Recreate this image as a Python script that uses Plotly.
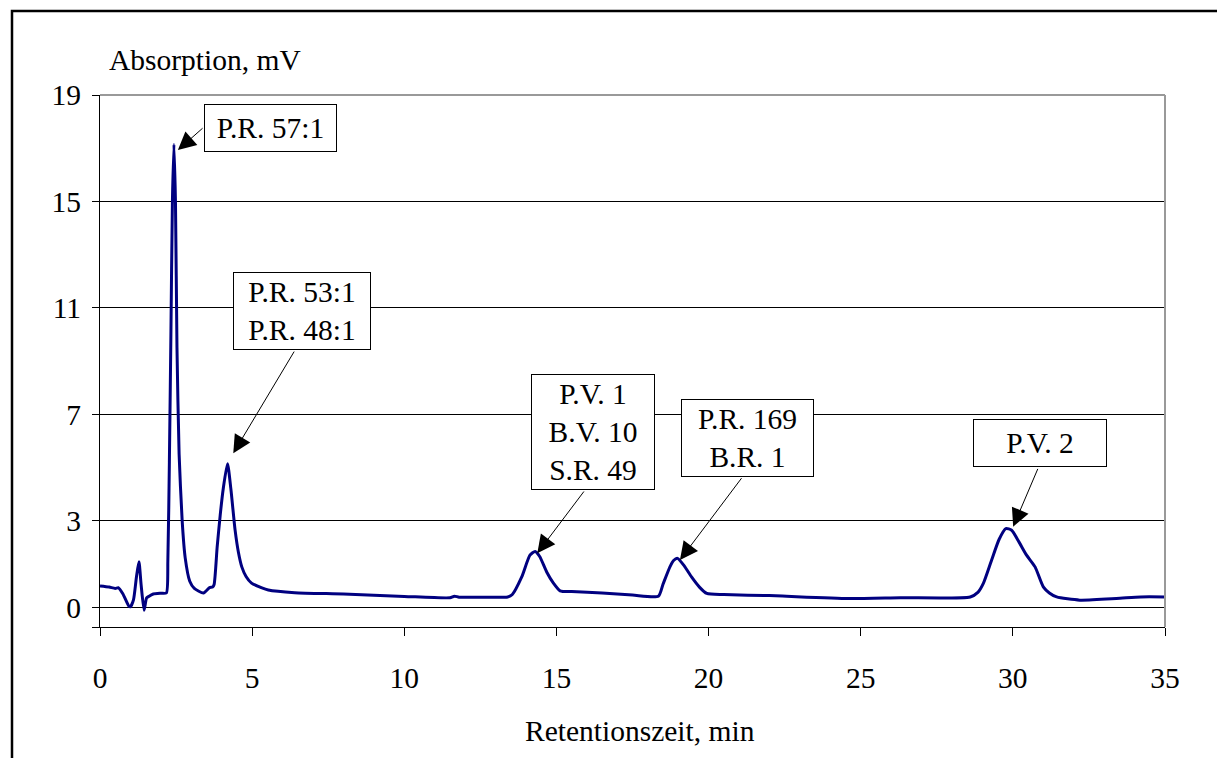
import plotly.graph_objects as go

# ---- data ----
time_min = [0.0, 0.3, 0.5, 0.6, 0.75, 0.95, 1.0, 1.1, 1.2, 1.28, 1.35, 1.45, 1.53, 1.6, 1.75,
            2.0, 2.18, 2.23, 2.28, 2.33, 2.38, 2.43, 2.48, 2.53, 2.6, 2.7, 2.8, 2.95, 3.1,
            3.4, 3.6, 3.7, 3.75, 3.85, 3.95, 4.05, 4.19, 4.3, 4.44, 4.55, 4.66, 4.8, 4.98,
            5.3, 5.53, 6.4, 8.0, 10.0, 11.5, 11.65, 11.8, 12.5, 13.4, 13.55, 13.86, 14.13,
            14.3, 14.45, 14.68, 14.9, 15.12, 15.5, 16.5, 17.5, 18.35, 18.5, 18.73, 18.85, 18.98,
            19.2, 19.44, 19.7, 19.94, 20.5, 22.0, 24.6, 26.3, 28.6, 28.85, 29.03, 29.3,
            29.55, 29.77, 29.96, 30.2, 30.45, 30.73, 31.0, 31.2, 31.44, 32.2, 33.4, 34.2, 35.0]
absorption_mv = [0.54, 0.50, 0.45, 0.48, 0.25, -0.22, -0.24, 0.02, 0.9, 1.45, 0.6, -0.37, 0.09, 0.15, 0.24,
                 0.27, 0.28, 1.5, 5.2, 10.0, 15.0, 17.15, 15.0, 9.5, 5.5, 3.0, 1.6, 0.72, 0.45,
                 0.28, 0.48, 0.5, 0.6, 2.0, 3.2, 4.2, 5.14, 4.2, 2.64, 1.8, 1.26, 0.9, 0.65,
                 0.48, 0.39, 0.29, 0.24, 0.15, 0.10, 0.16, 0.12, 0.12, 0.13, 0.22, 0.88, 1.7,
                 1.84, 1.65, 1.07, 0.65, 0.36, 0.33, 0.28, 0.2, 0.16, 0.6, 1.26, 1.5, 1.58,
                 1.3, 0.88, 0.5, 0.26, 0.22, 0.18, 0.07, 0.10, 0.13, 0.3, 0.64, 1.51,
                 2.3, 2.70, 2.64, 2.2, 1.7, 1.26, 0.51, 0.28, 0.13, 0.01, 0.07, 0.13, 0.13]

x_ticks = [0, 5, 10, 15, 20, 25, 30, 35]
y_tickvals = [-1, -0.27, 3, 7, 11, 15, 19]
y_ticktext = ["", "0", "3", "7", "11", "15", "19"]

peak_labels = ["P.R. 57:1", "P.R. 53:1<br>P.R. 48:1", "P.V. 1<br>B.V. 10<br>S.R. 49",
               "P.R. 169<br>B.R. 1", "P.V. 2"]
# arrow tips (data coords, at the peaks)
tip_x = [2.56, 4.38, 14.37, 19.06, 30.01]
tip_y = [16.93, 5.53, 1.77, 1.52, 2.77]

# ---- layout geometry (pixels) ----
W, H = 1217, 758
L, R, T, B = 100, 52, 95, 131
PW, PH = W - L - R, H - T - B

def px2paper(px, py):
    return (px - L) / PW, (H - B - py) / PH

# label boxes: centre (data), size (px)
box_x = [5.60, 6.63, 16.20, 21.29, 30.89]
box_y = [17.76, 10.88, 6.33, 6.12, 5.92]
box_w = [133, 138, 124, 133, 134]
box_h = [48, 78, 116, 78, 48]
# arrow tails (data)
tail_x = [3.42, 6.41, 15.94, 21.12, 30.84]
tail_y = [17.80, 9.41, 4.15, 4.65, 5.00]

FONT = "Liberation Serif"
FS = 29.5

fig = go.Figure()
fig.add_trace(go.Scatter(x=time_min, y=absorption_mv, mode="lines",
                         line=dict(color="#000080", width=3, shape="spline", smoothing=0.6),
                         hoverinfo="skip", showlegend=False))

annotations = []
for i, lab in enumerate(peak_labels):
    pad = 4
    annotations.append(dict(x=box_x[i], y=box_y[i], xref="x", yref="y", text=lab,
                            showarrow=False, font=dict(family=FONT, size=FS, color="black"),
                            bgcolor="white", bordercolor="black", borderwidth=1, borderpad=pad,
                            width=box_w[i] - 2 * pad - 2, height=box_h[i] - 2 * pad - 2,
                            align="center", valign="middle"))
    annotations.append(dict(x=tip_x[i], y=tip_y[i], xref="x", yref="y", text="",
                            showarrow=True, ax=tail_x[i], ay=tail_y[i], axref="x", ayref="y",
                            arrowhead=2, arrowsize=3.6, arrowwidth=1, arrowcolor="black",
                            standoff=0, startstandoff=0))

ax_, ay_ = px2paper(107, 60)
annotations.append(dict(x=ax_, y=ay_, xref="paper", yref="paper", text="Absorption, mV",
                        showarrow=False, xanchor="left", yanchor="middle",
                        font=dict(family=FONT, size=FS, color="black")))
tx_, ty_ = px2paper(640, 731)
annotations.append(dict(x=tx_, y=ty_, xref="paper", yref="paper", text="Retentionszeit, min",
                        showarrow=False, xanchor="center", yanchor="middle",
                        font=dict(family=FONT, size=FS, color="black")))

# outer frame (only its left and top edges are in view)
fx0, fy0 = px2paper(12, 11)
fx1, fy1 = px2paper(1240, 800)
shapes = [
    dict(type="path", xref="paper", yref="paper",
         path=f"M {fx0} {fy1} L {fx0} {fy0} L {fx1} {fy0}",
         line=dict(color="black", width=2.5)),
    # plot area border top & right (grey)
    dict(type="line", xref="paper", yref="paper", x0=0, x1=1, y0=1, y1=1,
         line=dict(color="#999999", width=2), layer="above"),
    dict(type="line", xref="paper", yref="paper", x0=1, x1=1, y0=0, y1=1,
         line=dict(color="#999999", width=2), layer="above"),
]

fig.update_layout(
    width=W, height=H,
    margin=dict(l=L, r=R, t=T, b=B, pad=0),
    paper_bgcolor="white", plot_bgcolor="white",
    font=dict(family=FONT, size=FS, color="black"),
    showlegend=False,
    annotations=annotations,
    shapes=shapes,
    xaxis=dict(range=[0, 35], tickvals=x_ticks, ticks="outside", ticklen=8, tickwidth=1,
               tickcolor="black", showline=True, linecolor="black", linewidth=1,
               showgrid=False, zeroline=False, ticklabelstandoff=17,
               tickfont=dict(family=FONT, size=FS, color="black")),
    yaxis=dict(range=[-1, 19], tickvals=y_tickvals, ticktext=y_ticktext, ticks="outside",
               ticklen=7, tickwidth=1, tickcolor="black", showline=True, linecolor="black",
               linewidth=1, showgrid=True, gridcolor="black", gridwidth=1, zeroline=False,
               ticklabelstandoff=5, tickfont=dict(family=FONT, size=FS, color="black")),
)

fig.write_html("out.html")
